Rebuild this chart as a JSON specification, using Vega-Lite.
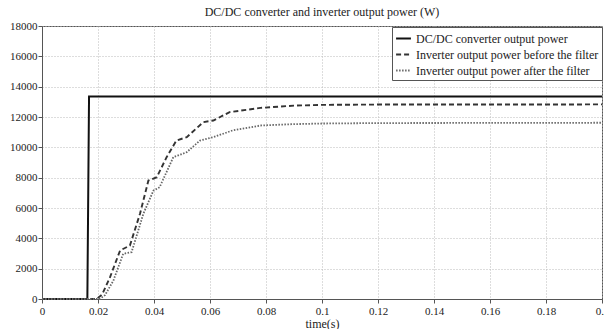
{
  "$schema": "https://vega.github.io/schema/vega-lite/v6.json",
  "width": 560,
  "height": 273,
  "autosize": {"type": "none"},
  "padding": {"left": 42, "top": 26, "right": 2, "bottom": 30},
  "background": "white",
  "config": {
    "font": "Liberation Serif",
    "view": {"stroke": "#555", "strokeWidth": 1},
    "axis": {
      "labelFont": "Liberation Serif",
      "titleFont": "Liberation Serif",
      "labelFontSize": 11,
      "titleFontSize": 12,
      "titleFontWeight": "normal",
      "labelColor": "#222",
      "titleColor": "#222",
      "domainColor": "#555",
      "tickColor": "#555",
      "gridColor": "#bbb",
      "gridDash": [1, 2],
      "gridWidth": 1
    }
  },
  "title": {
    "text": "DC/DC converter and inverter output power (W)",
    "font": "Liberation Serif",
    "fontSize": 12,
    "fontWeight": "normal",
    "color": "#222",
    "offset": 8,
    "dy": 7
  },
  "data": {
    "values": [
      {"t": 0, "p": 0, "s": "DC/DC converter output power"},
      {"t": 0.0162, "p": 0, "s": "DC/DC converter output power"},
      {"t": 0.0168, "p": 13350, "s": "DC/DC converter output power"},
      {"t": 0.2, "p": 13350, "s": "DC/DC converter output power"},

      {"t": 0, "p": 0, "s": "Inverter output power before the filter"},
      {"t": 0.0195, "p": 0, "s": "Inverter output power before the filter"},
      {"t": 0.0215, "p": 300, "s": "Inverter output power before the filter"},
      {"t": 0.0243, "p": 1440, "s": "Inverter output power before the filter"},
      {"t": 0.0279, "p": 3200, "s": "Inverter output power before the filter"},
      {"t": 0.0314, "p": 3530, "s": "Inverter output power before the filter"},
      {"t": 0.035, "p": 5620, "s": "Inverter output power before the filter"},
      {"t": 0.038, "p": 7810, "s": "Inverter output power before the filter"},
      {"t": 0.041, "p": 8030, "s": "Inverter output power before the filter"},
      {"t": 0.0445, "p": 9350, "s": "Inverter output power before the filter"},
      {"t": 0.048, "p": 10450, "s": "Inverter output power before the filter"},
      {"t": 0.0517, "p": 10670, "s": "Inverter output power before the filter"},
      {"t": 0.0576, "p": 11660, "s": "Inverter output power before the filter"},
      {"t": 0.0612, "p": 11770, "s": "Inverter output power before the filter"},
      {"t": 0.067, "p": 12320, "s": "Inverter output power before the filter"},
      {"t": 0.078, "p": 12600, "s": "Inverter output power before the filter"},
      {"t": 0.09, "p": 12750, "s": "Inverter output power before the filter"},
      {"t": 0.1, "p": 12800, "s": "Inverter output power before the filter"},
      {"t": 0.12, "p": 12820, "s": "Inverter output power before the filter"},
      {"t": 0.2, "p": 12830, "s": "Inverter output power before the filter"},

      {"t": 0, "p": 0, "s": "Inverter output power after the filter"},
      {"t": 0.0205, "p": 0, "s": "Inverter output power after the filter"},
      {"t": 0.0225, "p": 250, "s": "Inverter output power after the filter"},
      {"t": 0.0255, "p": 1220, "s": "Inverter output power after the filter"},
      {"t": 0.029, "p": 2980, "s": "Inverter output power after the filter"},
      {"t": 0.032, "p": 3090, "s": "Inverter output power after the filter"},
      {"t": 0.0362, "p": 5620, "s": "Inverter output power after the filter"},
      {"t": 0.0398, "p": 7150, "s": "Inverter output power after the filter"},
      {"t": 0.042, "p": 7370, "s": "Inverter output power after the filter"},
      {"t": 0.0469, "p": 9350, "s": "Inverter output power after the filter"},
      {"t": 0.0517, "p": 9680, "s": "Inverter output power after the filter"},
      {"t": 0.0564, "p": 10450, "s": "Inverter output power after the filter"},
      {"t": 0.0612, "p": 10670, "s": "Inverter output power after the filter"},
      {"t": 0.068, "p": 11110, "s": "Inverter output power after the filter"},
      {"t": 0.078, "p": 11440, "s": "Inverter output power after the filter"},
      {"t": 0.09, "p": 11530, "s": "Inverter output power after the filter"},
      {"t": 0.1, "p": 11570, "s": "Inverter output power after the filter"},
      {"t": 0.12, "p": 11600, "s": "Inverter output power after the filter"},
      {"t": 0.2, "p": 11620, "s": "Inverter output power after the filter"}
    ]
  },
  "mark": {"type": "line", "interpolate": "linear"},
  "encoding": {
    "x": {
      "field": "t",
      "type": "quantitative",
      "title": "time(s)",
      "scale": {"domain": [0, 0.2], "nice": false},
      "axis": {"values": [0, 0.02, 0.04, 0.06, 0.08, 0.1, 0.12, 0.14, 0.16, 0.18, 0.2], "labelExpr": "datum.value == 0 ? '0' : format(datum.value, '~g')", "grid": true, "tickSize": 4, "labelPadding": 2, "titlePadding": 2, "labelFlush": false}
    },
    "y": {
      "field": "p",
      "type": "quantitative",
      "title": null,
      "scale": {"domain": [0, 18000], "nice": false},
      "axis": {"values": [0, 2000, 4000, 6000, 8000, 10000, 12000, 14000, 16000, 18000], "format": "d", "grid": true, "tickSize": 4, "labelPadding": 1, "labelFlush": false}
    },
    "color": {
      "field": "s",
      "type": "nominal",
      "scale": {
        "domain": ["DC/DC converter output power", "Inverter output power before the filter", "Inverter output power after the filter"],
        "range": ["#111111", "#333333", "#666666"]
      },
      "legend": {
        "title": null,
        "orient": "none",
        "legendX": 350,
        "legendY": 1,
        "symbolType": "stroke",
        "symbolSize": 220,
        "symbolStrokeWidth": 1.5,
        "labelFont": "Liberation Serif",
        "labelFontSize": 12,
        "labelColor": "#222",
        "labelLimit": 300,
        "rowPadding": 1,
        "fillColor": "white",
        "strokeColor": "#555",
        "padding": 3
      }
    },
    "strokeDash": {
      "field": "s",
      "type": "nominal",
      "scale": {
        "domain": ["DC/DC converter output power", "Inverter output power before the filter", "Inverter output power after the filter"],
        "range": [[1, 0], [5, 3], [1.5, 1.5]]
      },
      "legend": null
    },
    "strokeWidth": {
      "field": "s",
      "type": "nominal",
      "scale": {
        "domain": ["DC/DC converter output power", "Inverter output power before the filter", "Inverter output power after the filter"],
        "range": [2, 1.8, 1.2]
      },
      "legend": null
    }
  }
}
